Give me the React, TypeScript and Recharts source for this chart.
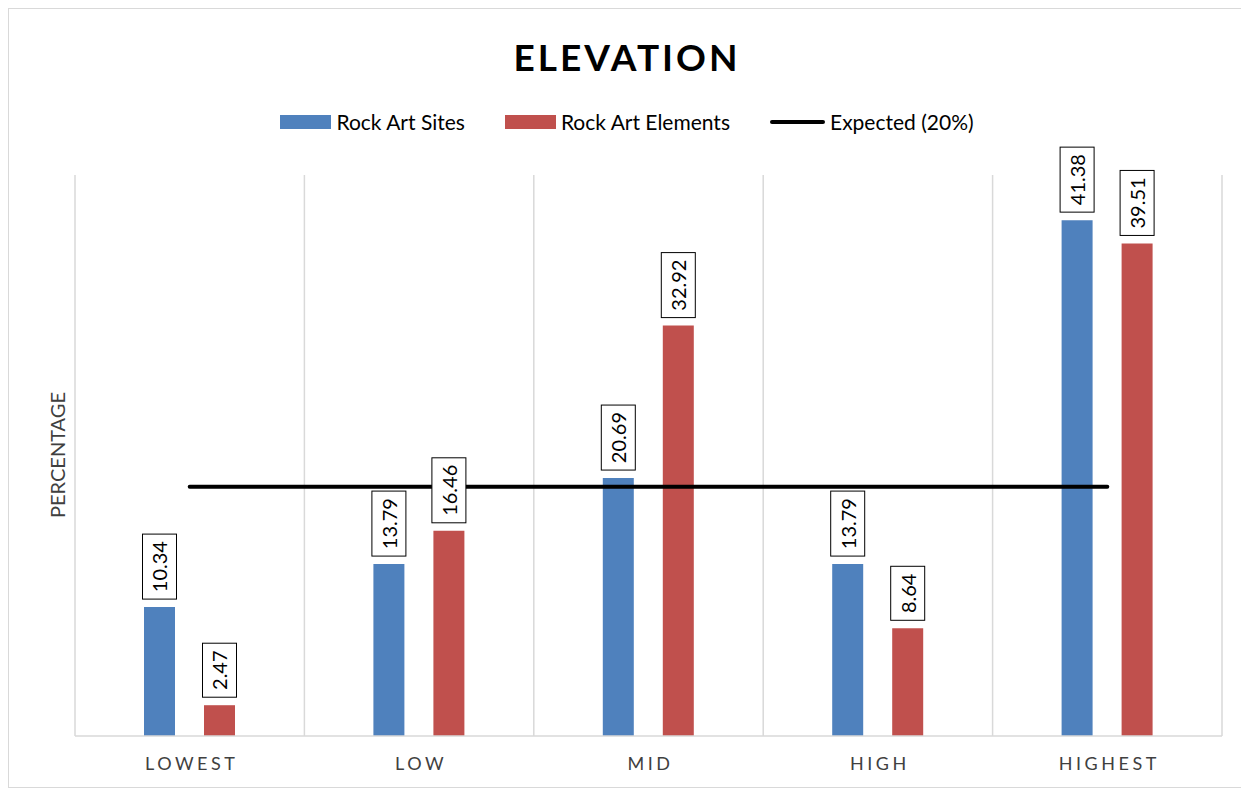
import React from "react";
import { ComposedChart, Bar, Line, XAxis, YAxis, CartesianGrid, LabelList } from "recharts";

const categories = ["LOWEST", "LOW", "MID", "HIGH", "HIGHEST"];
const siteValues = [10.34, 13.79, 20.69, 13.79, 41.38];
const elementValues = [2.47, 16.46, 32.92, 8.64, 39.51];
const expectedValues = [20, 20, 20, 20, 20];

const data = categories.map((name, i) => ({
  name,
  sites: siteValues[i],
  elements: elementValues[i],
  expected: expectedValues[i],
}));

const FONT = "Lato, 'Open Sans', sans-serif";
const BLUE = "#4F81BD";
const RED = "#C0504D";

function BoxLabel(props: any) {
  const { x, y, width, value } = props;
  const text = Number(value).toFixed(2);
  const fs = 20;
  const tw = text.replace(".", "").length * fs * 0.55 + fs * 0.25;
  const h = tw + 16;
  const w = 34;
  const cx = x + width / 2;
  const bottom = y - 8;
  return (
    <g>
      <rect x={cx - w / 2} y={bottom - h} width={w} height={h} fill="#fff" stroke="#000" strokeWidth={1} />
      <text
        x={cx}
        y={bottom - h / 2}
        transform={`rotate(-90, ${cx}, ${bottom - h / 2})`}
        textAnchor="middle"
        dominantBaseline="central"
        fontSize={fs}
        fontFamily={FONT}
        fill="#000"
      >
        {text}
      </text>
    </g>
  );
}

function CategoryTick(props: any) {
  const { x, y, payload } = props;
  return (
    <text x={x + 2} y={y + 26} textAnchor="middle" fontSize={18} fontFamily={FONT} fill="#404040" letterSpacing={3.5}>
      {payload.value}
    </text>
  );
}

const legendItems = [
  { label: "Rock Art Sites", color: BLUE, kind: "rect" },
  { label: "Rock Art Elements", color: RED, kind: "rect" },
  { label: "Expected (20%)", color: "#000", kind: "line" },
];

export default function App() {
  return (
    <div
      style={{
        position: "relative",
        width: 1236,
        height: 778,
        border: "1px solid #d9d9d9",
        background: "#fff",
        fontFamily: FONT,
      }}
    >
      <div
        style={{
          position: "absolute",
          top: 25,
          left: 0,
          width: "100%",
          textAlign: "center",
          fontSize: 37,
          fontWeight: 700,
          letterSpacing: 3,
          color: "#000",
        }}
      >
        ELEVATION
      </div>
      <div
        style={{
          position: "absolute",
          top: 100,
          left: 0,
          width: "100%",
          display: "flex",
          justifyContent: "center",
          gap: 40,
          fontSize: 21,
          color: "#000",
        }}
      >
        {legendItems.map((it) => (
          <div key={it.label} style={{ display: "flex", alignItems: "center", gap: 5 }}>
            {it.kind === "rect" ? (
              <span style={{ display: "inline-block", width: 51, height: 14, background: it.color }} />
            ) : (
              <span style={{ display: "inline-block", width: 55, height: 4, borderRadius: 2, background: it.color }} />
            )}
            <span>{it.label}</span>
          </div>
        ))}
      </div>
      <ComposedChart
        width={1236}
        height={778}
        data={data}
        margin={{ top: 166, right: 23, bottom: 21, left: 66 }}
        barGap={29}
        barSize={31}
      >
        <CartesianGrid
          horizontal={false}
          stroke="#d9d9d9"
          strokeWidth={1.5}
          verticalCoordinatesGenerator={({ offset }: any) =>
            categories.map((_, i) => offset.left + (i * offset.width) / categories.length).concat(offset.left + offset.width)
          }
        />
        <XAxis
          dataKey="name"
          tick={<CategoryTick />}
          tickLine={false}
          axisLine={{ stroke: "#d9d9d9", strokeWidth: 1.5 }}
          height={30}
        />
        <YAxis hide domain={[0, 45]} />
        <text
          x={48}
          y={446}
          transform="rotate(-90, 48, 446)"
          textAnchor="middle"
          dominantBaseline="central"
          fontSize={20}
          fontFamily={FONT}
          fill="#404040"
        >
          PERCENTAGE
        </text>
        <Bar dataKey="sites" fill={BLUE} isAnimationActive={false}>
          <LabelList dataKey="sites" content={<BoxLabel />} />
        </Bar>
        <Bar dataKey="elements" fill={RED} isAnimationActive={false}>
          <LabelList dataKey="elements" content={<BoxLabel />} />
        </Bar>
        <Line
          dataKey="expected"
          type="linear"
          stroke="#000"
          strokeWidth={4}
          strokeLinecap="round"
          dot={false}
          activeDot={false}
          isAnimationActive={false}
        />
      </ComposedChart>
    </div>
  );
}
